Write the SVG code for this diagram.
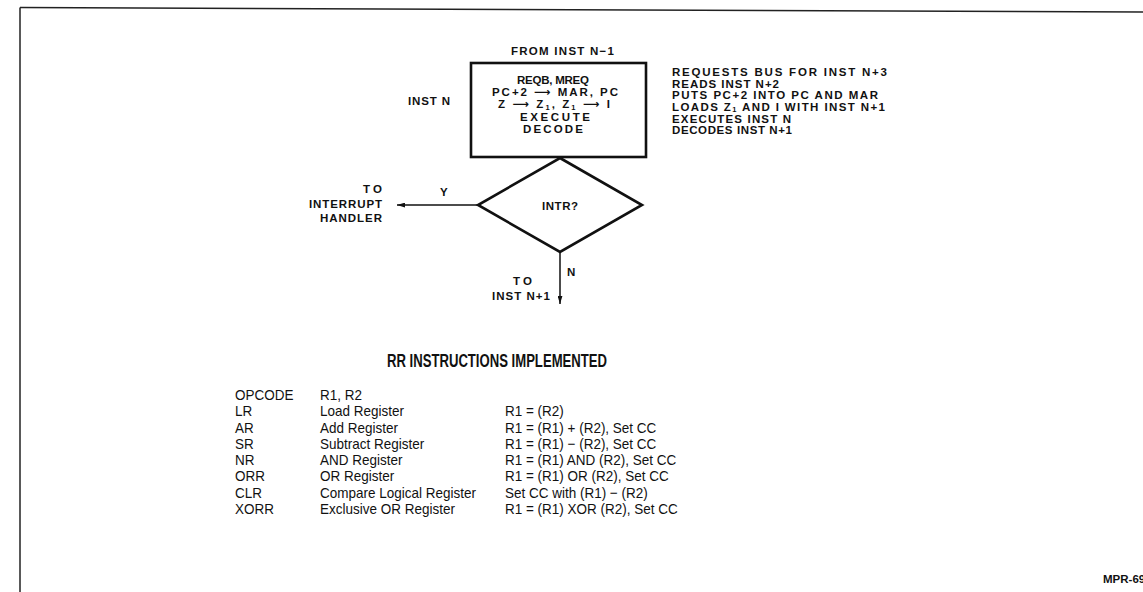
<svg xmlns="http://www.w3.org/2000/svg" width="1143" height="592" viewBox="0 0 1143 592">
<defs>
<style>
.b{font-family:"Liberation Sans",Arial,sans-serif;font-weight:bold;font-size:11.5px;fill:#111}
.t{font-family:"Liberation Sans",Arial,sans-serif;font-size:15px;fill:#111}
.ti{font-family:"Liberation Sans",Arial,sans-serif;font-weight:bold;font-size:18px;fill:#111}
.shape{fill:none;stroke:#111;stroke-width:2.6;stroke-linejoin:miter}
.conn{fill:none;stroke:#111;stroke-width:1.5}
.frame{fill:none;stroke:#222;stroke-width:1.5}
.sub{font-size:7.5px}
.ar{font-family:"DejaVu Sans",sans-serif;font-weight:bold}
</style>
<marker id="ah" viewBox="0 0 10 6" refX="10" refY="3" markerWidth="8" markerHeight="5" markerUnits="userSpaceOnUse" orient="auto">
<path d="M0,0 L10,3 L0,6 Z" fill="#111"/>
</marker>
</defs>
<rect width="1143" height="592" fill="#fff"/>
<g id="frame">
<line class="frame" x1="20" y1="7.5" x2="1143" y2="12"/>
<line class="frame" x1="20" y1="7.5" x2="20" y2="592"/>
</g>

<g id="node-from">
<text class="b" x="562.5" y="55" text-anchor="middle" textLength="103" lengthAdjust="spacing">FROM INST N−1</text>
</g>

<g id="node-inst-n">
<rect class="shape" x="471" y="63" width="175" height="94"/>
<text class="b" x="553" y="83.5" text-anchor="middle" textLength="72" lengthAdjust="spacing">REQB, MREQ</text>
<text class="b" x="555" y="96" text-anchor="middle" textLength="126" lengthAdjust="spacing">PC+2 <tspan class="ar">⟶</tspan> MAR, PC</text>
<text class="b" x="554" y="108.3" text-anchor="middle" textLength="112" lengthAdjust="spacing">Z <tspan class="ar">⟶</tspan> Z<tspan class="sub" dy="2">1</tspan><tspan dy="-2">, Z</tspan><tspan class="sub" dy="2">1</tspan><tspan dy="-2"> </tspan><tspan class="ar">⟶</tspan> I</text>
<text class="b" x="555" y="120.6" text-anchor="middle" textLength="70" lengthAdjust="spacing">EXECUTE</text>
<text class="b" x="553" y="132.8" text-anchor="middle" textLength="60" lengthAdjust="spacing">DECODE</text>
</g>

<g id="label-inst-n">
<text class="b" x="408" y="104.5" textLength="42" lengthAdjust="spacing">INST N</text>
</g>

<g id="notes">
<text class="b" x="672" y="76" textLength="215" lengthAdjust="spacing">REQUESTS BUS FOR INST N+3</text>
<text class="b" x="672" y="87.6" textLength="107" lengthAdjust="spacing">READS INST N+2</text>
<text class="b" x="672" y="99.2" textLength="206" lengthAdjust="spacing">PUTS PC+2 INTO PC AND MAR</text>
<text class="b" x="672" y="110.6" textLength="213" lengthAdjust="spacing">LOADS Z<tspan class="sub" dy="1.5">1</tspan><tspan dy="-1.5"> AND I WITH INST N+1</tspan></text>
<text class="b" x="672" y="122.6" textLength="119" lengthAdjust="spacing">EXECUTES INST N</text>
<text class="b" x="672" y="134" textLength="120" lengthAdjust="spacing">DECODES INST N+1</text>
</g>

<g id="node-intr">
<polygon class="shape" points="560,158 642,205 560,252 478,205"/>
<text class="b" x="542" y="210" textLength="36" lengthAdjust="spacing">INTR?</text>
</g>

<g id="node-interrupt-handler">
<text class="b" x="382" y="193" text-anchor="end" textLength="19" lengthAdjust="spacing">TO</text>
<text class="b" x="382" y="207.5" text-anchor="end" textLength="73" lengthAdjust="spacing">INTERRUPT</text>
<text class="b" x="382" y="222" text-anchor="end" textLength="62" lengthAdjust="spacing">HANDLER</text>
</g>

<g id="node-next">
<text class="b" x="522.5" y="285" text-anchor="middle" textLength="19" lengthAdjust="spacing">TO</text>
<text class="b" x="521" y="300" text-anchor="middle" textLength="58" lengthAdjust="spacing">INST N+1</text>
</g>

<g id="connectors">
<line class="conn" x1="478" y1="205" x2="397" y2="205" marker-end="url(#ah)"/>
<line class="conn" x1="560" y1="252" x2="560" y2="304" marker-end="url(#ah)"/>
<text class="b" x="440" y="196">Y</text>
<text class="b" x="567" y="276">N</text>
</g>

<g id="table">
<text class="ti" x="387" y="367" textLength="220" lengthAdjust="spacingAndGlyphs">RR INSTRUCTIONS IMPLEMENTED</text>
<g transform="scale(0.9,1)">
<text class="t" x="261.1" y="400">OPCODE</text>
<text class="t" x="355.6" y="400">R1, R2</text>

<text class="t" x="261.1" y="416.3">LR</text>
<text class="t" x="355.6" y="416.3">Load Register</text>
<text class="t" x="561.1" y="416.3">R1 = (R2)</text>

<text class="t" x="261.1" y="432.6">AR</text>
<text class="t" x="355.6" y="432.6">Add Register</text>
<text class="t" x="561.1" y="432.6">R1 = (R1) + (R2), Set CC</text>

<text class="t" x="261.1" y="448.9">SR</text>
<text class="t" x="355.6" y="448.9">Subtract Register</text>
<text class="t" x="561.1" y="448.9">R1 = (R1) − (R2), Set CC</text>

<text class="t" x="261.1" y="465.2">NR</text>
<text class="t" x="355.6" y="465.2">AND Register</text>
<text class="t" x="561.1" y="465.2">R1 = (R1) AND (R2), Set CC</text>

<text class="t" x="261.1" y="481.5">ORR</text>
<text class="t" x="355.6" y="481.5">OR Register</text>
<text class="t" x="561.1" y="481.5">R1 = (R1) OR (R2), Set CC</text>

<text class="t" x="261.1" y="497.8">CLR</text>
<text class="t" x="355.6" y="497.8">Compare Logical Register</text>
<text class="t" x="561.1" y="497.8">Set CC with (R1) − (R2)</text>

<text class="t" x="261.1" y="514.1">XORR</text>
<text class="t" x="355.6" y="514.1">Exclusive OR Register</text>
<text class="t" x="561.1" y="514.1">R1 = (R1) XOR (R2), Set CC</text>
</g>
</g>

<g id="figure-id">
<text class="b" x="1103" y="583" font-size="10.5">MPR-69</text>
</g>
</svg>
